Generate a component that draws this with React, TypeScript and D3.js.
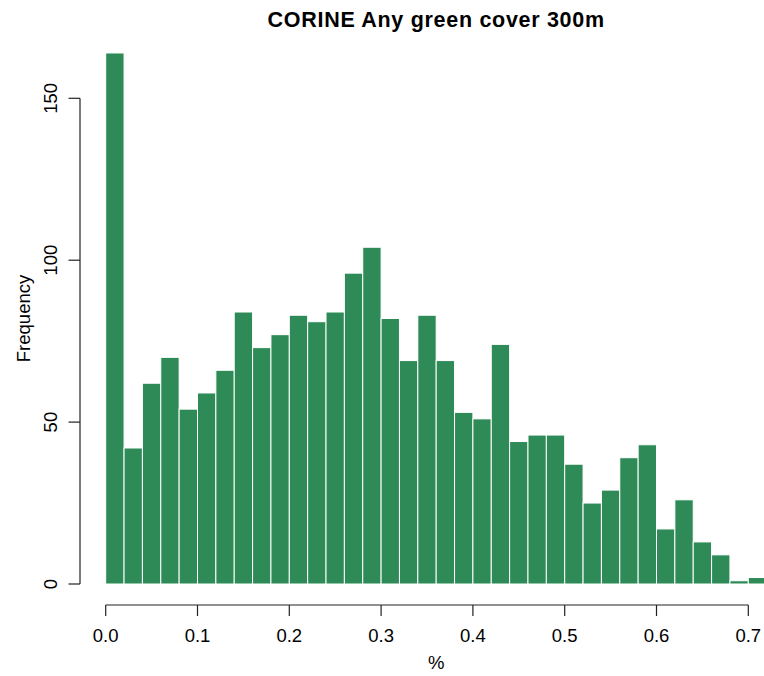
import React from "react";
import * as d3 from "d3";

// Histogram of green cover share within 300 m (bins of 0.02)
const binStart = 0;
const binWidth = 0.02;
const counts = [
  164, 42, 62, 70, 54, 59, 66, 84, 73, 77, 83, 81, 84, 96, 104, 82, 69, 83,
  69, 53, 51, 74, 44, 46, 46, 37, 25, 29, 39, 43, 17, 26, 13, 9, 1, 2,
];
const xTicks = [0, 0.1, 0.2, 0.3, 0.4, 0.5, 0.6, 0.7];
const yTicks = [0, 50, 100, 150];
const title = "CORINE Any green cover 300m";
const xLabel = "%";
const yLabel = "Frequency";

const W = 764;
const H = 676;
const FONT = "'Liberation Sans', Arial, Helvetica, sans-serif";
const FILL = "#2E8B57";

export default function App() {
  const bins = counts.map((c, i) => ({
    x0: binStart + i * binWidth,
    x1: binStart + (i + 1) * binWidth,
    count: c,
  }));

  const x = d3.scaleLinear().domain([0, 0.7]).range([105.7, 748.3]);
  const y = d3.scaleLinear().domain([0, 150]).range([584, 98.3]);

  const xMid = x(0.36);
  const yMid = y(82);

  return (
    <svg
      width={W}
      height={H}
      viewBox={`0 0 ${W} ${H}`}
      style={{ position: "absolute", left: 0, top: 0, display: "block", background: "#fff" }}
      fontFamily={FONT}
    >
      <rect x={0} y={0} width={W} height={H} fill="#fff" />

      {/* bars */}
      <g>
        {bins.map((b, i) => (
          <rect
            key={i}
            x={x(b.x0)}
            y={y(b.count)}
            width={x(b.x1) - x(b.x0)}
            height={y(0) - y(b.count)}
            fill={FILL}
            stroke="#fff"
            strokeWidth={1}
          />
        ))}
      </g>

      {/* x axis */}
      <g stroke="#222" strokeWidth={1.2} fill="none">
        <line x1={x(xTicks[0])} x2={x(xTicks[xTicks.length - 1])} y1={605} y2={605} />
        {xTicks.map((t) => (
          <line key={t} x1={x(t)} x2={x(t)} y1={605} y2={616} />
        ))}
      </g>
      <g fontSize={18.5} fill="#000" textAnchor="middle">
        {xTicks.map((t) => (
          <text key={t} x={x(t)} y={641.5}>
            {d3.format(".1f")(t)}
          </text>
        ))}
      </g>

      {/* y axis */}
      <g stroke="#222" strokeWidth={1.2} fill="none">
        <line x1={80} x2={80} y1={y(yTicks[0])} y2={y(yTicks[yTicks.length - 1])} />
        {yTicks.map((t) => (
          <line key={t} x1={68.5} x2={80} y1={y(t)} y2={y(t)} />
        ))}
      </g>
      <g fontSize={18.5} fill="#000" textAnchor="middle">
        {yTicks.map((t) => (
          <text key={t} transform={`translate(57,${y(t)}) rotate(-90)`}>
            {t}
          </text>
        ))}
      </g>

      {/* titles */}
      <text
        x={xMid}
        y={27.3}
        textAnchor="middle"
        fontSize={21.5}
        fontWeight="bold"
        letterSpacing={0.7}
        fill="#000"
      >
        {title}
      </text>
      <text x={xMid} y={669} textAnchor="middle" fontSize={18.5} fill="#000">
        {xLabel}
      </text>
      <text
        transform={`translate(30,${yMid}) rotate(-90)`}
        textAnchor="middle"
        fontSize={18.5}
        fill="#000"
      >
        {yLabel}
      </text>
    </svg>
  );
}
